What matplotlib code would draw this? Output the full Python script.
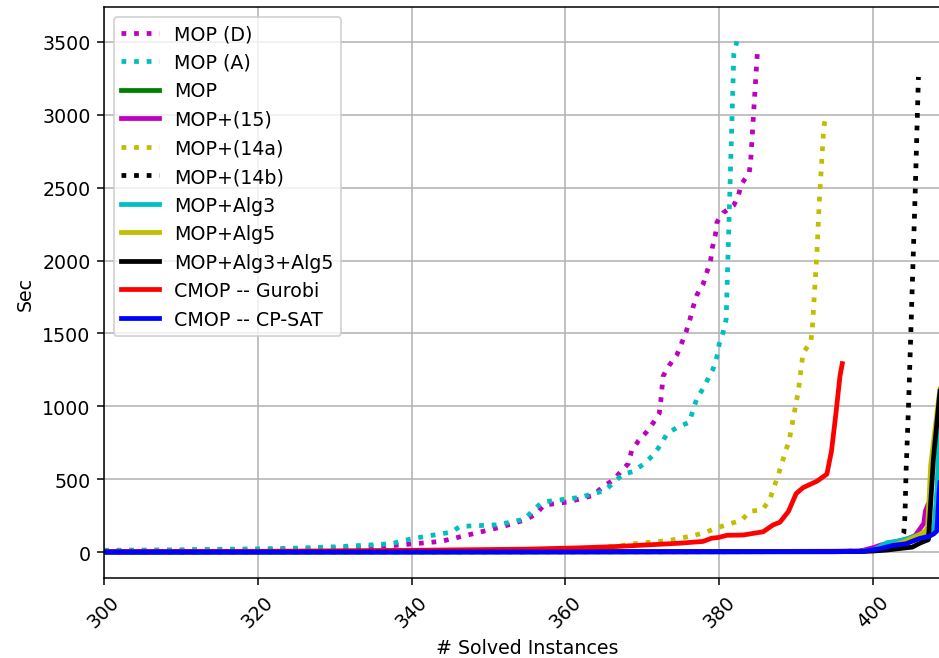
import matplotlib
matplotlib.use("Agg")
import matplotlib.pyplot as plt

# ---- data ----
mop_d_x = [300, 320, 330, 336, 338.8, 343.8, 348.5, 351.8, 354.7, 356.2, 357.2, 360.2, 361.9, 363.6,
           364.8, 366.2, 368.2, 368.6, 369.5, 370.5, 371.4, 372.2, 372.4, 372.7, 373.5, 374.5, 375.1,
           375.7, 376.2, 376.6, 377.1, 377.9, 378.4, 378.9, 379.1, 379.5, 379.7, 380.5, 381.9, 382.5,
           382.9, 383.9, 384.1, 384.5, 385.0]
mop_d_y = [8, 15, 25, 38, 50, 73, 132, 174, 220, 261, 322, 343, 364, 389,
           445, 494, 609, 694, 763, 821, 885, 951, 1036, 1207, 1281, 1354, 1432,
           1513, 1598, 1681, 1765, 1838, 1921, 2009, 2087, 2178, 2263, 2327, 2380, 2449,
           2527, 2600, 2691, 3040, 3461]

mop_a_x = [300, 310, 320, 325, 330, 335, 337.5, 338.8, 341.3, 345.2, 346.3, 351.2, 354.7, 355.7,
           357.0, 360.2, 362.0, 363.6, 365.1, 366.2, 367.5, 368.8, 370.3, 371.5, 372.4, 373.2,
           374.6, 376.1, 376.6, 377.1, 377.9, 378.6, 379.2, 379.7, 380.0, 380.5, 380.9, 381.9, 382.3]
mop_a_y = [12, 16, 22, 27, 36, 50, 58, 78, 103, 137, 176, 187, 226, 281,
           343, 364, 376, 401, 420, 474, 535, 552, 609, 670, 738, 811,
           858, 890, 975, 1056, 1122, 1195, 1256, 1342, 1427, 1506, 1598, 3419, 3505]

mop_x = [300, 380, 395, 398, 400, 403, 405, 406.5]
mop_y = [0.5, 2, 4, 5, 15, 50, 85, 125]

mop15_x = [300, 380, 395, 398.4, 400, 401, 402.7, 404.4, 405.5, 406.6, 406.8, 407.1]
mop15_y = [1, 3, 6, 8, 30, 48, 69, 87, 115, 197, 280, 320]

mop14a_x = [300, 340, 355, 362, 366.6, 368.4, 370.1, 371.9, 373.4, 374.9, 376.6, 378.3, 379.7, 381.3,
            382.9, 384.0, 385.6, 386.5, 387.0, 387.6, 388.1, 388.6, 389.1, 389.4, 389.7, 390.0,
            390.3, 390.5, 390.7, 390.9, 391.9, 392.1, 392.4, 392.7, 393.0, 393.3, 393.6, 393.9]
mop14a_y = [2, 8, 15, 25, 39, 54, 64, 71, 78, 95, 112, 137, 166, 193,
            218, 279, 291, 352, 425, 518, 601, 687, 767, 853, 939, 1024,
            1110, 1195, 1281, 1366, 1440, 1530, 1794, 2050, 2393, 2659, 2918, 3004]

mop14b_x = [300, 395, 400, 402, 403.5, 404.0, 404.15, 404.3, 404.6, 405.0, 405.5, 405.9]
mop14b_y = [0.3, 3, 10, 30, 70, 130, 250, 560, 980, 1650, 2500, 3260]

alg3_x = [300, 395, 398.4, 400, 401.8, 403.3, 404.9, 406.4, 407.7, 407.9, 408.3, 408.6, 409.5]
alg3_y = [0.5, 4, 5, 14, 64, 76, 99, 128, 145, 150, 420, 800, 1300]

alg5_x = [300, 398, 400, 402, 404, 405.7, 406.8, 407.1, 407.5, 408.6, 409.5]
alg5_y = [0.5, 4, 10, 35, 70, 110, 144, 170, 600, 1080, 1400]

alg35_x = [300, 398, 400, 401.8, 403.6, 405.1, 406.2, 407.2, 407.85, 408.6, 409.5]
alg35_y = [0.3, 3, 7, 14, 25, 34, 64, 85, 640, 1050, 1500]

gurobi_x = [300, 320, 340, 355, 361.9, 366.2, 370.6, 374.9, 377.9, 379.0, 379.9, 381.0, 383.1,
            385.7, 387.0, 387.9, 389.0, 390.0, 390.9, 392.7, 394.0, 394.6, 395.2, 395.7, 396.0]
gurobi_y = [2, 5, 12, 20, 29, 37, 49, 61, 73, 95, 100, 115, 117,
            139, 186, 205, 279, 401, 442, 486, 535, 694, 963, 1207, 1293]

cpsat_x = [300, 395, 398.7, 400.9, 402.6, 404.3, 405.2, 406.1, 407.2, 407.9, 408.3, 408.6, 409.5]
cpsat_y = [0, 2, 5, 23, 46, 57, 76, 94, 105, 125, 145, 420, 900]

series = [
    ("MOP (D)", mop_d_x, mop_d_y, "m", ":"),
    ("MOP (A)", mop_a_x, mop_a_y, "c", ":"),
    ("MOP", mop_x, mop_y, "g", "-"),
    ("MOP+(15)", mop15_x, mop15_y, "m", "-"),
    ("MOP+(14a)", mop14a_x, mop14a_y, "y", ":"),
    ("MOP+(14b)", mop14b_x, mop14b_y, "k", ":"),
    ("MOP+Alg3", alg3_x, alg3_y, "c", "-"),
    ("MOP+Alg5", alg5_x, alg5_y, "y", "-"),
    ("MOP+Alg3+Alg5", alg35_x, alg35_y, "k", "-"),
    ("CMOP -- Gurobi", gurobi_x, gurobi_y, "r", "-"),
    ("CMOP -- CP-SAT", cpsat_x, cpsat_y, "b", "-"),
]

DPI = 137
fig = plt.figure(figsize=(939 / DPI, 659 / DPI), dpi=DPI)
ax = fig.add_axes([104 / 939, 80 / 659, 0.9009, 0.866])

for label, xs, ys, col, ls in series:
    ax.plot(xs, ys, color=col, linestyle=ls, linewidth=2.5, label=label)

ax.set_xlim(300, 410)
ax.set_ylim(-178, 3738)
ax.grid(True)
ax.set_xlabel("# Solved Instances")
ax.set_ylabel("Sec")
plt.setp(ax.get_xticklabels(), rotation=45)
ax.legend(loc="upper left")

fig.savefig("out.png", dpi=DPI)
